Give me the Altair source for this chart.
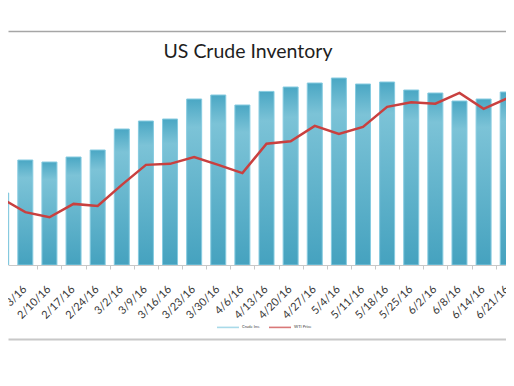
import altair as alt
import pandas as pd

# ---- data ----
dates = ["1/27/16", "2/3/16", "2/10/16", "2/17/16", "2/24/16", "3/2/16", "3/9/16",
         "3/16/16", "3/23/16", "3/30/16", "4/6/16", "4/13/16", "4/20/16", "4/27/16",
         "5/4/16", "5/11/16", "5/18/16", "5/25/16", "6/2/16", "6/8/16", "6/14/16",
         "6/21/16", "6/28/16"]
inventory = [486.0, 502.5, 501.5, 504.0, 507.5, 518.0, 522.0, 523.0, 533.0, 535.0,
             530.0, 536.8, 539.0, 541.0, 543.5, 540.5, 541.5, 537.5, 536.0, 532.0,
             533.0, 536.5, None]
wti = [31.0, 28.3, 27.3, 29.9, 29.5, 33.6, 37.5, 37.7, 39.0, 37.5, 35.9, 41.6,
       42.1, 45.1, 43.5, 44.9, 48.8, 49.7, 49.4, 51.5, 48.4, 50.5, 49.5]
series_names = ["Crude Inv.", "WTI Price"]
title_text = "US Crude Inventory"

df = pd.DataFrame({"i": list(range(len(dates))), "date": dates,
                   "inventory": inventory, "wti": wti})

inv_min, inv_max = 450, 545
wti_min, wti_max = 18, 55
half = 0.311
plot_w = 520
x_scale = alt.Scale(domain=[0.282, 0.282 + plot_w / 24.12], nice=False, zero=False)
stroke_scale = alt.Scale(domain=series_names, range=["#86cbe0", "#c9403f"])
label_expr = "[" + ",".join("'%s'" % d for d in dates) + "][datum.value]"

legend = alt.Legend(orient="none", legendX=208, legendY=240,
                    direction="horizontal", symbolType="stroke",
                    symbolSize=484, symbolStrokeWidth=1.6, symbolOpacity=0.7,
                    labelFont="Lato", labelFontSize=4,
                    labelColor="#404040", labelOffset=2,
                    columnPadding=5, title=None)

grad = alt.LinearGradient(
    gradient="linear", x1=0, y1=0, x2=0, y2=1,
    stops=[alt.GradientStop(offset=0, color="#4aa7c4"),
           alt.GradientStop(offset=0.17, color="#7cc3d7"),
           alt.GradientStop(offset=1, color="#45a2bf")])

base = alt.Chart(df)

bars = base.transform_filter("isValid(datum.inventory)").transform_calculate(
    x0="datum.i - %f" % half, x1="datum.i + %f" % half,
).mark_bar(fill=grad, strokeWidth=0, clip=True).encode(
    x=alt.X("x0:Q", scale=x_scale, title=None,
            axis=alt.Axis(orient="bottom", values=list(range(22)), labelExpr=label_expr,
                          labelAngle=-45, labelFlush=False, labelOverlap=False,
                          labelBound=False, labelFont="Lato", labelFontSize=11,
                          labelColor="#383838", labelPadding=14, tickOffset=12.06,
                          labelOffset=-17, tickSize=4, tickColor="#c8c8c8",
                          domainColor="#c8c8c8", grid=False, title=None)),
    x2="x1:Q",
    y=alt.Y("inventory:Q", scale=alt.Scale(domain=[inv_min, inv_max], nice=False, zero=False), axis=None),
    y2=alt.datum(inv_min),
)

outline = base.transform_filter("isValid(datum.inventory)").transform_calculate(
    x0="datum.i - %f" % half, x1="datum.i + %f" % half, series="'%s'" % series_names[0],
).mark_bar(fillOpacity=0, strokeWidth=1, clip=True).encode(
    x=alt.X("x0:Q", scale=x_scale, title=None,
            axis=alt.Axis(orient="bottom", offset=74, labels=False, ticks=False, domain=True,
                          domainColor="#c8c8c8", domainWidth=2, grid=False, title=None)),
    x2="x1:Q",
    y=alt.Y("inventory:Q", scale=alt.Scale(domain=[inv_min, inv_max], nice=False, zero=False), axis=None),
    y2=alt.datum(inv_min),
    stroke=alt.Stroke("series:N", scale=stroke_scale, legend=legend),
)

line = base.transform_calculate(series="'%s'" % series_names[1]).mark_line(
    strokeWidth=2.5, clip=True).encode(
    x=alt.X("i:Q", scale=x_scale, title=None,
            axis=alt.Axis(orient="top", offset=44, labels=False, ticks=False, domain=True,
                          domainColor="#a6a6a6", domainWidth=1.5, grid=False, title=None)),
    y=alt.Y("wti:Q", scale=alt.Scale(domain=[wti_min, wti_max], nice=False, zero=False), axis=None),
    stroke=alt.Stroke("series:N", scale=stroke_scale, legend=legend),
)

chart = alt.layer(bars, outline, line).resolve_scale(
    y="independent"
).resolve_axis(x="independent").properties(
    width=plot_w, height=190, autosize="none",
    padding={"left": 0, "top": 67, "right": 498 - plot_w, "bottom": 113},
    background="white",
    title=alt.TitleParams(title_text, font="Lato", fontSize=19.5, fontWeight="normal",
                          color="#1e1e1e", anchor="middle", frame="group", dx=-20,
                          offset=-46, baseline="alphabetic"),
).configure_view(stroke=None)

chart.save("out.html", embed_options={"renderer": "svg", "actions": False})
